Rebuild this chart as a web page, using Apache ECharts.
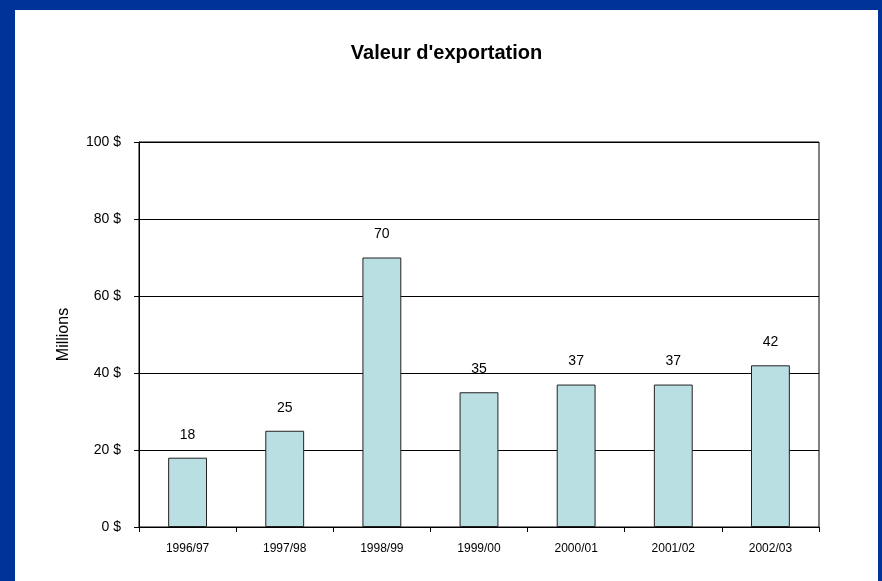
<!DOCTYPE html>
<html>
<head>
<meta charset="utf-8">
<script src="https://cdn.jsdelivr.net/npm/echarts@6/dist/echarts.min.js"></script>
<style>
  html, body { margin: 0; padding: 0; background: #003399; width: 882px; height: 581px; overflow: hidden; }
  #main { position: absolute; left: 15px; top: 10px; width: 863px; height: 571px; background: #fff; }
</style>
</head>
<body>
<div id="main"></div>
<script>
// données
var categories = ['1996/97', '1997/98', '1998/99', '1999/00', '2000/01', '2001/02', '2002/03'];
var values = [18, 25, 70, 35, 37, 37, 42];
var yTicks = [0, 20, 40, 60, 80, 100];

var myChart = echarts.init(document.getElementById('main'));
var font = "'Liberation Sans', Arial, sans-serif";

myChart.setOption({
    backgroundColor: '#ffffff',
    textStyle: { fontFamily: font },
    title: {
        text: "Valeur d'exportation",
        left: 'center',
        top: 28,
        textStyle: { fontSize: 20, fontWeight: 'bold', color: '#000', fontFamily: font }
    },
    grid: {
        left: 124, right: 59, top: 132, bottom: 54,
        show: true, borderColor: '#000', borderWidth: 1
    },
    xAxis: {
        type: 'category',
        data: categories,
        axisLine: { lineStyle: { color: '#000', width: 1 } },
        axisTick: { show: true, length: 5, lineStyle: { color: '#000' } },
        axisLabel: { color: '#000', fontSize: 12, margin: 16, fontFamily: font }
    },
    yAxis: {
        type: 'value',
        min: yTicks[0],
        max: yTicks[yTicks.length - 1],
        interval: yTicks[1] - yTicks[0],
        name: 'Millions',
        nameLocation: 'middle',
        nameRotate: 90,
        nameGap: 67,
        nameTextStyle: { color: '#000', fontSize: 16, fontFamily: font },
        axisLine: { show: true, lineStyle: { color: '#000', width: 1 } },
        axisTick: { show: true, length: 5, lineStyle: { color: '#000' } },
        axisLabel: {
            color: '#000', fontSize: 14, margin: 18, fontFamily: font,
            formatter: function (v) { return v + ' $'; }
        },
        splitLine: { show: true, lineStyle: { color: '#000', width: 1 } }
    },
    series: [{
        type: 'bar',
        data: values,
        barWidth: '40%',
        itemStyle: { color: '#b9dfe2', borderColor: '#222', borderWidth: 1 },
        label: {
            show: true, position: 'top', distance: 16,
            color: '#000', fontSize: 14, fontFamily: font
        },
        animation: false
    }],
    animation: false
});
</script>
</body>
</html>
